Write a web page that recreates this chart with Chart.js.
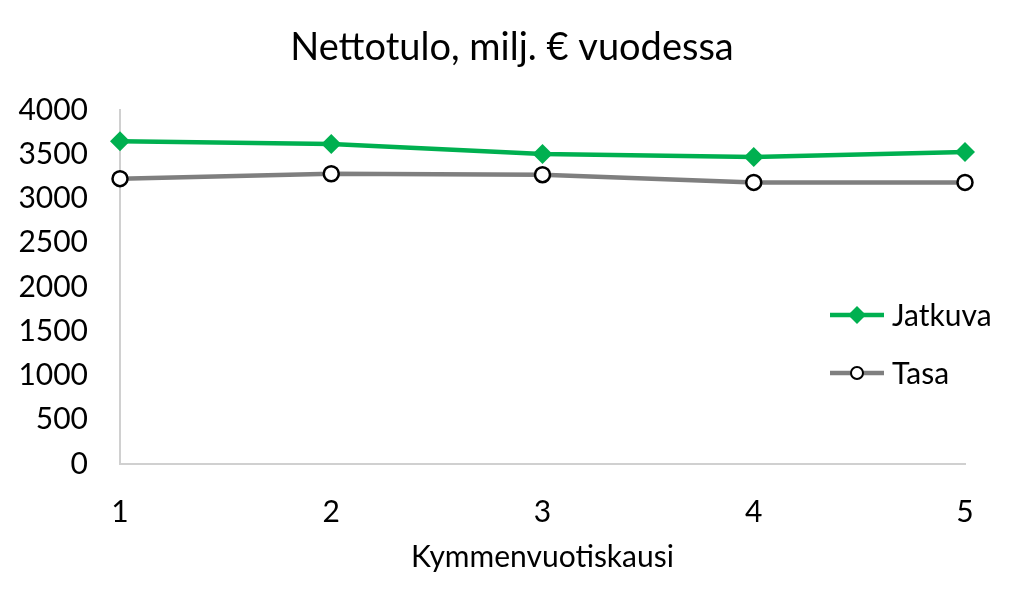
<!DOCTYPE html>
<html>
<head>
<meta charset="utf-8">
<script src="https://cdn.jsdelivr.net/npm/chart.js@4.4.0/dist/chart.umd.min.js"></script>
<style>
  html, body { margin: 0; padding: 0; background: #fff; }
  #wrap { width: 1024px; height: 613px; }
</style>
</head>
<body>
<div id="wrap"><canvas id="nettoChart"></canvas></div>
<script>
const periods = ['1', '2', '3', '4', '5'];
const jatkuva = [3646, 3617, 3504, 3470, 3526];
const tasa = [3224, 3280, 3269, 3182, 3182];
const yTicks = [0, 500, 1000, 1500, 2000, 2500, 3000, 3500, 4000];
const chartTitle = 'Nettotulo, milj. € vuodessa';

const FONT = 'Lato, "Open Sans", sans-serif';
const GREEN = '#00b050';
const GREY = '#7f7f7f';

// title centred on the whole canvas + legend drawn inside the plot
const decorations = {
  id: 'decorations',
  afterDatasetsDraw(chart) {
    const ctx = chart.ctx;
    ctx.save();
    ctx.fillStyle = '#000';
    ctx.font = '38px ' + FONT;
    ctx.textAlign = 'center';
    ctx.textBaseline = 'middle';
    ctx.fillText(chartTitle, chart.width / 2, 48);

    const rows = [
      { ds: chart.data.datasets[0], y: 315 },
      { ds: chart.data.datasets[1], y: 373 }
    ];
    rows.forEach(r => {
      const x0 = 830, x1 = 884, xm = 857;
      ctx.strokeStyle = r.ds.borderColor;
      ctx.lineWidth = 4.5;
      ctx.beginPath();
      ctx.moveTo(x0, r.y);
      ctx.lineTo(x1, r.y);
      ctx.stroke();
      if (r.ds.pointStyle === 'rectRot') {
        ctx.fillStyle = r.ds.pointBackgroundColor;
        ctx.beginPath();
        ctx.moveTo(xm, r.y - 9);
        ctx.lineTo(xm + 9, r.y);
        ctx.lineTo(xm, r.y + 9);
        ctx.lineTo(xm - 9, r.y);
        ctx.closePath();
        ctx.fill();
      } else {
        ctx.fillStyle = '#fff';
        ctx.strokeStyle = '#000';
        ctx.lineWidth = 2;
        ctx.beginPath();
        ctx.arc(xm, r.y, 6, 0, Math.PI * 2);
        ctx.fill();
        ctx.stroke();
      }
      ctx.fillStyle = '#000';
      ctx.font = '30px ' + FONT;
      ctx.textBaseline = 'middle';
      ctx.textAlign = 'left';
      ctx.fillText(r.ds.label, 892, r.y + 1);
    });
    ctx.restore();
  }
};

new Chart(document.getElementById('nettoChart'), {
  type: 'line',
  data: {
    labels: periods,
    datasets: [
      {
        label: 'Jatkuva',
        data: jatkuva,
        borderColor: GREEN,
        backgroundColor: GREEN,
        borderWidth: 4.5,
        pointStyle: 'rectRot',
        pointRadius: 10,
        pointBackgroundColor: GREEN,
        pointBorderColor: GREEN,
        pointBorderWidth: 0,
        tension: 0
      },
      {
        label: 'Tasa',
        data: tasa,
        borderColor: GREY,
        backgroundColor: GREY,
        borderWidth: 4.5,
        pointStyle: 'circle',
        pointRadius: 7.5,
        pointBackgroundColor: '#fff',
        pointBorderColor: '#000',
        pointBorderWidth: 2.5,
        tension: 0
      }
    ]
  },
  options: {
    responsive: true,
    maintainAspectRatio: false,
    animation: false,
    layout: { padding: { left: 0, right: 59, top: 110, bottom: 38 } },
    plugins: {
      legend: { display: false },
      tooltip: { enabled: false },
      title: { display: false }
    },
    scales: {
      x: {
        type: 'category',
        offset: false,
        grid: { display: false, drawTicks: false },
        border: { display: true, color: '#d0d0d0', width: 2 },
        ticks: { color: '#000', font: { family: FONT, size: 30 }, padding: 30, maxRotation: 0 },
        title: {
          display: true,
          text: 'Kymmenvuotiskausi',
          color: '#000',
          font: { family: FONT, size: 30 },
          padding: { top: 0, bottom: 0 }
        },
        afterFit(scale) { scale.height = 111; }
      },
      y: {
        min: 0,
        max: 4000,
        afterBuildTicks(scale) { scale.ticks = yTicks.map(v => ({ value: v })); },
        grid: { display: false, drawTicks: false },
        border: { display: true, color: '#d0d0d0', width: 2 },
        ticks: {
          color: '#000',
          font: { family: FONT, size: 30 },
          padding: 32,
          callback: v => String(v)
        },
        afterFit(scale) { scale.width = 120; }
      }
    }
  },
  plugins: [decorations]
});
</script>
</body>
</html>
